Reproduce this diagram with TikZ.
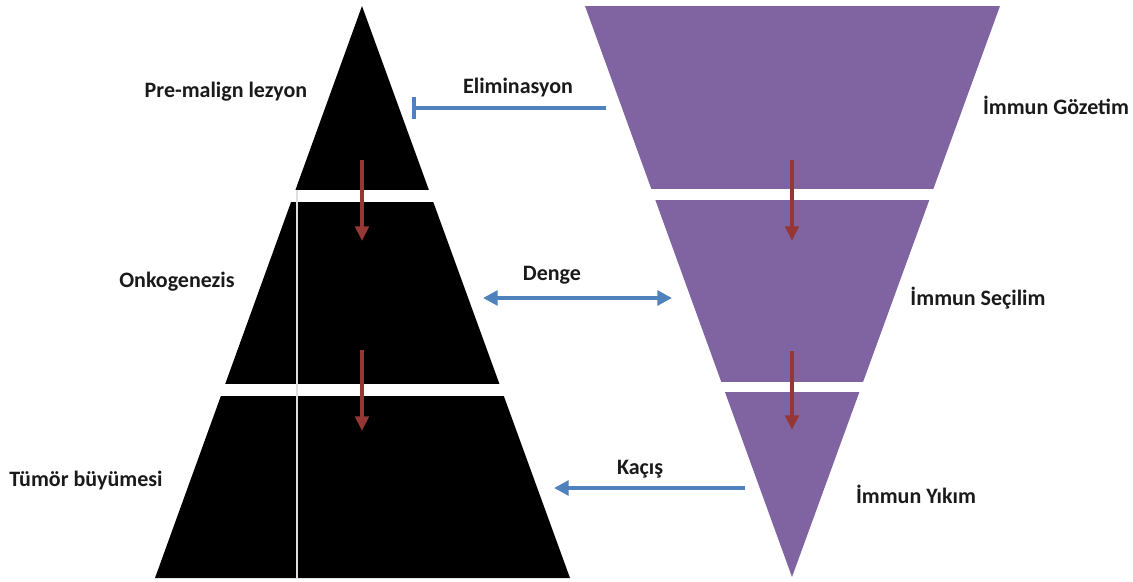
\documentclass[tikz,border=0pt]{standalone}
\usepackage{fontspec}
\setmainfont{Carlito}
\usetikzlibrary{arrows.meta}
\definecolor{purp}{HTML}{8064A2}
\definecolor{dred}{HTML}{953735}
\definecolor{blu}{HTML}{4F81BD}
\definecolor{txt}{HTML}{1A1A1A}
\begin{document}
\begin{tikzpicture}[x=0.75pt,y=-0.75pt,
  lab/.style={font=\bfseries\fontsize{16.5}{18}\selectfont, text=txt, inner sep=0pt},
  redarr/.style={draw=dred, line width=3pt, -{Triangle[length=11pt,width=10pt]}},
  bluline/.style={draw=blu, line width=3pt},
  gapband/.style={fill=white}]
\useasboundingbox (0,0) rectangle (1133,582);
% left pyramid
\fill[black] (362,6) -- (570,578) -- (155,578) -- cycle;
\fill[gapband] (250,190) rectangle (470,202);
\fill[gapband] (180,384) rectangle (540,396);
\draw[white!75!gray, line width=0.8pt] (297,190) -- (297,578);
% right inverted pyramid
\fill[purp] (585,6) -- (1000,6) -- (792,577) -- cycle;
\fill[gapband] (620,189) rectangle (960,200);
\fill[gapband] (700,382) rectangle (890,392);
% red arrows
\coordinate (l1s) at (362,160); \coordinate (l1e) at (362,241);
\coordinate (l2s) at (362,350); \coordinate (l2e) at (362,431);
\coordinate (r1s) at (792,160); \coordinate (r1e) at (792,241);
\coordinate (r2s) at (792,351); \coordinate (r2e) at (792,430);
\draw[redarr] (l1s) -- (l1e);
\draw[redarr] (l2s) -- (l2e);
\draw[redarr] (r1s) -- (r1e);
\draw[redarr] (r2s) -- (r2e);
% blue connectors
\coordinate (es) at (606,108); \coordinate (ee) at (412,108);
\draw[bluline, -{Bar[width=17pt,line width=3pt]}] (es) -- (ee);
\coordinate (da) at (483,298); \coordinate (db) at (672,298);
\draw[bluline, {Triangle[length=11pt,width=11pt]}-{Triangle[length=11pt,width=11pt]}] (da) -- (db);
\coordinate (ks) at (745,488); \coordinate (ke) at (554,488);
\draw[bluline, -{Triangle[length=11pt,width=11pt]}] (ks) -- (ke);
% labels
\node[lab] (elim) at (518,88) {Eliminasyon};
\node[lab] (denge) at (552,275) {Denge};
\node[lab] (kacis) at (640,469) {Kaçış};
\node[lab] (pre) at (226,92) {Pre-malign lezyon};
\node[lab] (onko) at (177,282) {Onkogenezis};
\node[lab] (tumor) at (86,481) {Tümör büyümesi};
\node[lab] (goz) at (1056,105) {İmmun Gözetim};
\node[lab] (sec) at (978,298) {İmmun Seçilim};
\node[lab] (yik) at (916,494) {İmmun Yıkım};
\end{tikzpicture}
\end{document}
